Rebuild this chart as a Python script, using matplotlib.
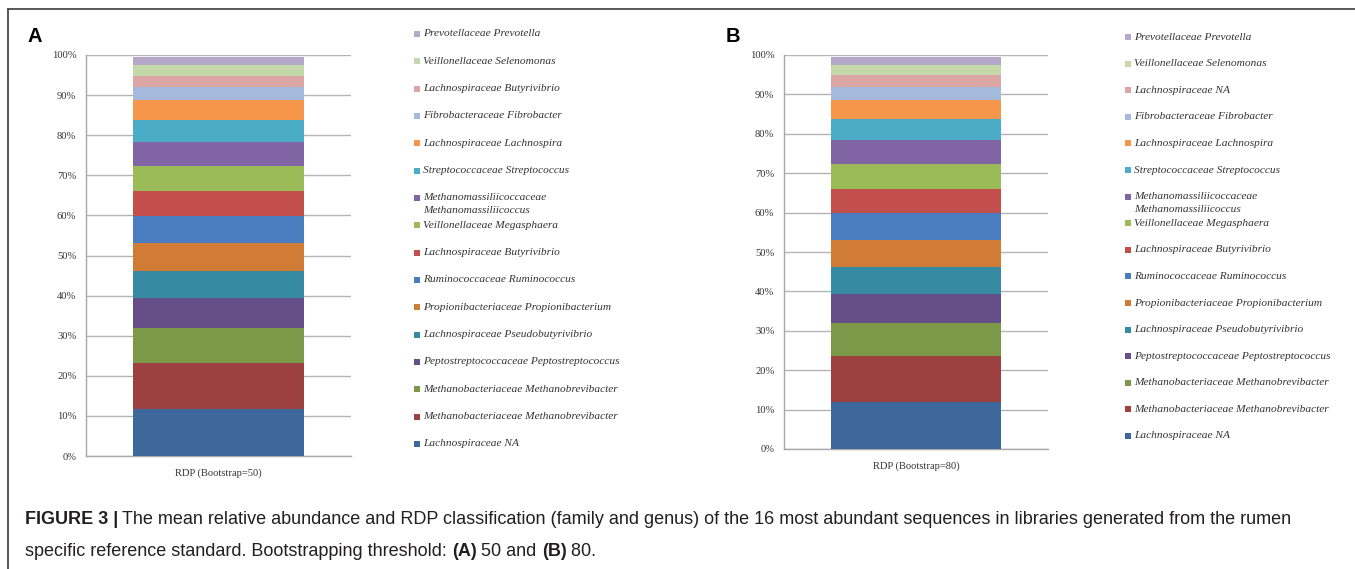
import matplotlib
matplotlib.use("Agg")
import matplotlib.pyplot as plt
from matplotlib.patches import Rectangle
from matplotlib.lines import Line2D
from matplotlib.ticker import PercentFormatter

# canvas size in pixels
W, H = 1355, 569

# sequences, listed from the bottom of the stack upwards
taxa_a = [
    "Lachnospiraceae NA",
    "Methanobacteriaceae Methanobrevibacter",
    "Methanobacteriaceae Methanobrevibacter",
    "Peptostreptococcaceae Peptostreptococcus",
    "Lachnospiraceae Pseudobutyrivibrio",
    "Propionibacteriaceae Propionibacterium",
    "Ruminococcaceae Ruminococcus",
    "Lachnospiraceae Butyrivibrio",
    "Veillonellaceae Megasphaera",
    "Methanomassiliicoccaceae\nMethanomassiliicoccus",
    "Streptococcaceae Streptococcus",
    "Lachnospiraceae Lachnospira",
    "Fibrobacteraceae Fibrobacter",
    "Lachnospiraceae Butyrivibrio",
    "Veillonellaceae Selenomonas",
    "Prevotellaceae Prevotella",
]
taxa_b = taxa_a[:13] + ["Lachnospiraceae NA"] + taxa_a[14:]

# mean relative abundance (%)
abund_a = [11.7, 11.6, 8.5, 7.5, 6.9, 7.0, 6.7, 6.2, 6.1, 6.1, 5.5, 5.0, 3.1, 2.9, 2.7, 1.9]
abund_b = [12.0, 11.5, 8.5, 7.4, 6.9, 6.8, 6.7, 6.3, 6.2, 6.0, 5.5, 4.8, 3.4, 2.9, 2.6, 1.9]

colors = ["#3e679c", "#9c4040", "#7c9849", "#664e88", "#368aa2", "#d07c36",
          "#4a7dc0", "#c24f4c", "#9bbb58", "#8064a3", "#4bacc7", "#f6964a",
          "#a4b9dc", "#dca6a5", "#c5d8a9", "#b5a8ca"]

plt.rcParams["font.family"] = ["Liberation Serif", "DejaVu Serif"]


def fx(x):
    return x / W


def fy(y):
    return 1 - y / H


def panel(fig, box, values, labels, xlabel, letter, letter_x, leg_x, leg_top, leg_step):
    left, top, right, bottom = box
    ax = fig.add_axes([fx(left), fy(bottom), fx(right - left), (bottom - top) / H])
    base = 0
    for v, c in zip(values, colors):
        ax.bar(0, v, bottom=base, width=0.645, color=c, linewidth=0, zorder=3)
        base += v
    ax.set_xlim(-0.5, 0.5)
    ax.set_ylim(0, 100)
    ax.set_yticks(range(0, 101, 10))
    ax.yaxis.set_major_formatter(PercentFormatter(decimals=0))
    ax.set_xticks([0])
    ax.set_xticklabels([xlabel])
    ax.tick_params(length=0, labelsize=7.6, labelcolor="#333333")
    ax.tick_params(axis="y", pad=7)
    ax.tick_params(axis="x", pad=9)
    ax.grid(axis="y", color="#b4b4b4", lw=1.0, zorder=0)
    for s in ("top", "right"):
        ax.spines[s].set_visible(False)
    for s in ("left", "bottom"):
        ax.spines[s].set_color("#a8a8a8")
        ax.spines[s].set_linewidth(1.0)

    fig.text(fx(letter_x), fy(37), letter, fontsize=14.5, fontweight="bold",
             family="Liberation Sans", va="center", ha="left")

    # legend, top entry is the top of the stack
    for i, (lab, c) in enumerate(zip(labels[::-1], colors[::-1])):
        y = leg_top + i * leg_step
        fig.add_artist(Rectangle((fx(leg_x - 3), fy(y + 3)), 6 / W, 6 / H,
                                 transform=fig.transFigure, color=c, lw=0))
        for k, line in enumerate(lab.split("\n")):
            fig.text(fx(leg_x + 6), fy(y + 13 * k), line, fontsize=8.2,
                     style="italic", color="#333333", va="center", ha="left")


fig = plt.figure(figsize=(W / 100, H / 100), dpi=100)

panel(fig, (86, 55, 351, 456), abund_a, taxa_a, "RDP (Bootstrap=50)", "A", 27,
      417, 34, 27.33)
panel(fig, (784, 55, 1048, 449), abund_b, taxa_b, "RDP (Bootstrap=80)", "B", 726,
      1128, 37, 26.6)

# figure frame (top and left rules)
fig.add_artist(Line2D([fx(8), fx(8)], [0, fy(9)], transform=fig.transFigure,
                      color="#4a4a4a", lw=1.3))
fig.add_artist(Line2D([fx(8), 1], [fy(9), fy(9)], transform=fig.transFigure,
                      color="#4a4a4a", lw=1.3))

# caption
cap_size = 13.0
head = fig.text(fx(25), fy(519), "FIGURE 3 |", family="Liberation Sans",
                fontweight="bold", fontsize=cap_size, color="#231f20", va="center")
fig.canvas.draw()
bb = head.get_window_extent(fig.canvas.get_renderer())
fig.text(bb.x1 / W + 4 / W, fy(519),
         "The mean relative abundance and RDP classification (family and genus) of the "
         "16 most abundant sequences in libraries generated from the rumen",
         family="Liberation Sans", fontsize=cap_size, color="#231f20", va="center")

line2 = [("specific reference standard. Bootstrapping threshold: ", "normal"),
         ("(A)", "bold"), (" 50 and ", "normal"), ("(B)", "bold"), (" 80.", "normal")]
x = fx(25)
for txt, w in line2:
    t = fig.text(x, fy(551), txt, family="Liberation Sans", fontweight=w,
                 fontsize=cap_size, color="#231f20", va="center")
    fig.canvas.draw()
    x = t.get_window_extent(fig.canvas.get_renderer()).x1 / W

fig.savefig("out.png", dpi=100)
